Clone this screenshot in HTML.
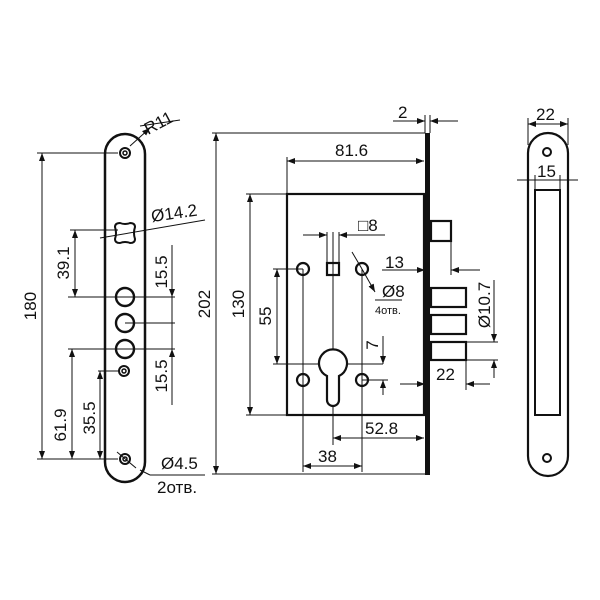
<!DOCTYPE html>
<html><head><style>body{margin:0;background:#fff}svg{display:block}text{font-family:"Liberation Sans",sans-serif;fill:#111}</style></head><body>
<svg width="600" height="600" viewBox="0 0 600 600" xmlns="http://www.w3.org/2000/svg">
<defs><marker id="a" markerWidth="8" markerHeight="6" refX="8" refY="3" orient="auto-start-reverse" markerUnits="userSpaceOnUse"><path d="M0,0 L8,3 L0,6z" fill="#111"/></marker></defs>
<g stroke="#111" fill="none">
<rect x="105" y="134" width="40" height="348" rx="20" stroke-width="2.5"/>
<circle cx="125" cy="153" r="5" stroke-width="2"/><circle cx="125" cy="153" r="2" stroke-width="1.5"/>
<circle cx="125" cy="459" r="5" stroke-width="2"/><circle cx="125" cy="459" r="2" stroke-width="1.5"/>
<path d="M120,223 Q125,225 130,223 Q135,223 135,227 Q133,233 135,239 Q135,243 130,243 Q125,241 120,243 Q115,243 115,239 Q117,233 115,227 Q115,223 120,223z" stroke-width="2"/>
<circle cx="125" cy="297" r="9" stroke-width="2.4"/><circle cx="125" cy="323" r="9" stroke-width="2.4"/><circle cx="125" cy="349" r="9" stroke-width="2.4"/>
<circle cx="124" cy="371" r="5" stroke-width="2"/><circle cx="124" cy="371" r="2" stroke-width="1.5"/>
<g stroke-width="1">
<line x1="37" y1="153" x2="118" y2="153"/><line x1="37" y1="459" x2="118" y2="459"/>
<line x1="42" y1="153" x2="42" y2="459" marker-start="url(#a)" marker-end="url(#a)"/>
<line x1="70" y1="230" x2="118" y2="230"/><line x1="68" y1="297" x2="175" y2="297"/>
<line x1="75" y1="230" x2="75" y2="297" marker-start="url(#a)" marker-end="url(#a)"/>
<line x1="125" y1="323" x2="175" y2="323"/><line x1="68" y1="349" x2="175" y2="349"/>
<line x1="72" y1="349" x2="72" y2="459" marker-start="url(#a)" marker-end="url(#a)"/>
<line x1="98" y1="371" x2="118" y2="371"/>
<line x1="100" y1="371" x2="100" y2="459" marker-start="url(#a)" marker-end="url(#a)"/>
<line x1="172" y1="245" x2="172" y2="297" marker-end="url(#a)"/>
<line x1="172" y1="349" x2="172" y2="405" marker-start="url(#a)"/>
<line x1="172" y1="297" x2="172" y2="349"/>
<line x1="100" y1="238" x2="205" y2="220"/>
<line x1="140" y1="126" x2="180" y2="120"/><line x1="130" y1="146" x2="150" y2="128" marker-end="url(#a)"/>
<line x1="117" y1="452" x2="136" y2="468"/><line x1="140" y1="470" x2="150" y2="475"/><line x1="150" y1="475" x2="205" y2="475"/>
<line x1="212" y1="133" x2="425" y2="133"/><line x1="212" y1="474" x2="425" y2="474"/>
<line x1="216" y1="133" x2="216" y2="474" marker-start="url(#a)" marker-end="url(#a)"/>
<line x1="287" y1="157" x2="287" y2="193"/>
<line x1="287" y1="161" x2="424" y2="161" marker-start="url(#a)" marker-end="url(#a)"/>
<line x1="425" y1="115" x2="425" y2="133"/><line x1="430" y1="115" x2="430" y2="133"/>
<line x1="393" y1="121" x2="425" y2="121" marker-end="url(#a)"/><line x1="458" y1="121" x2="430" y2="121" marker-end="url(#a)"/>
<line x1="246" y1="194" x2="287" y2="194"/><line x1="246" y1="415" x2="287" y2="415"/>
<line x1="250" y1="194" x2="250" y2="415" marker-start="url(#a)" marker-end="url(#a)"/>
<line x1="273" y1="269" x2="303" y2="269"/><line x1="273" y1="364" x2="383" y2="364"/>
<line x1="277" y1="269" x2="277" y2="364" marker-start="url(#a)" marker-end="url(#a)"/>
<line x1="303" y1="269" x2="303" y2="472"/><line x1="362" y1="269" x2="362" y2="472"/>
<line x1="333" y1="232" x2="333" y2="445"/><line x1="327" y1="232" x2="327" y2="264"/><line x1="339" y1="232" x2="339" y2="264"/>
<line x1="303" y1="235" x2="327" y2="235" marker-end="url(#a)"/><line x1="385" y1="235" x2="339" y2="235" marker-end="url(#a)"/>
<line x1="303" y1="466" x2="362" y2="466" marker-start="url(#a)" marker-end="url(#a)"/>
<line x1="333" y1="438" x2="424" y2="438" marker-start="url(#a)" marker-end="url(#a)"/>
<line x1="352" y1="252" x2="362" y2="269"/><line x1="362" y1="269" x2="375" y2="292" marker-end="url(#a)"/><line x1="375" y1="300" x2="402" y2="300"/>
<line x1="383" y1="336" x2="383" y2="364" marker-end="url(#a)"/><line x1="383" y1="395" x2="383" y2="380" marker-end="url(#a)"/>
<line x1="362" y1="380" x2="388" y2="380"/>
<line x1="451" y1="241" x2="451" y2="275"/>
<line x1="382" y1="270" x2="425" y2="270" marker-end="url(#a)"/><line x1="480" y1="270" x2="451" y2="270" marker-end="url(#a)"/>
<line x1="466" y1="360" x2="466" y2="390"/>
<line x1="400" y1="384" x2="425" y2="384" marker-end="url(#a)"/><line x1="490" y1="384" x2="466" y2="384" marker-end="url(#a)"/>
<line x1="466" y1="342" x2="498" y2="342"/><line x1="466" y1="360" x2="498" y2="360"/>
<line x1="494" y1="280" x2="494" y2="342" marker-end="url(#a)"/><line x1="494" y1="378" x2="494" y2="360" marker-end="url(#a)"/>
<line x1="528" y1="118" x2="528" y2="145"/><line x1="568" y1="118" x2="568" y2="145"/>
<line x1="528" y1="124" x2="568" y2="124" marker-start="url(#a)" marker-end="url(#a)"/>
<line x1="517" y1="180" x2="578" y2="180"/><line x1="535" y1="175" x2="535" y2="192"/><line x1="560" y1="175" x2="560" y2="192"/>
</g>
<rect x="425" y="133" width="5" height="342" fill="#111" stroke="none"/>
<rect x="287" y="194" width="137" height="221" stroke-width="2.2"/>
<rect x="431" y="221" width="20" height="20" stroke-width="2.2"/>
<rect x="431" y="288" width="35" height="19" stroke-width="2.2"/>
<rect x="431" y="315" width="35" height="19" stroke-width="2.2"/>
<rect x="431" y="342" width="35" height="18" stroke-width="2.2"/>
<circle cx="303" cy="269" r="6" stroke-width="2.2"/><circle cx="362" cy="269" r="6" stroke-width="2.2"/>
<rect x="327" y="263" width="12" height="12" stroke-width="2.2"/>
<circle cx="303" cy="380" r="6" stroke-width="2.2"/><circle cx="362" cy="380" r="6" stroke-width="2.2"/>
<path d="M327,376 A14,14 0 1 1 339,376 L339,400 A6,6 0 0 1 327,400z" stroke-width="2.2" fill="#fff"/>
<rect x="528" y="133" width="40" height="343" rx="20" stroke-width="2.2"/>
<rect x="535" y="190" width="25" height="225" stroke-width="2"/>
<circle cx="547" cy="152" r="4" stroke-width="2"/><circle cx="547" cy="458" r="4" stroke-width="2"/>
</g>
<g font-size="17">
<text transform="translate(36,306) rotate(-90)" text-anchor="middle">180</text>
<text transform="translate(69,263) rotate(-90)" text-anchor="middle">39.1</text>
<text transform="translate(66,425) rotate(-90)" text-anchor="middle">61.9</text>
<text transform="translate(95,418) rotate(-90)" text-anchor="middle">35.5</text>
<text transform="translate(167,272) rotate(-90)" text-anchor="middle">15.5</text>
<text transform="translate(167,376) rotate(-90)" text-anchor="middle">15.5</text>
<text transform="translate(148,135) rotate(-28)">R11</text>
<text transform="translate(152,222) rotate(-8)">Ø14.2</text>
<text x="161" y="469">Ø4.5</text>
<text x="157" y="493">2отв.</text>
<text transform="translate(210,304) rotate(-90)" text-anchor="middle">202</text>
<text transform="translate(244,304) rotate(-90)" text-anchor="middle">130</text>
<text transform="translate(271,316) rotate(-90)" text-anchor="middle">55</text>
<text x="335" y="156">81.6</text>
<text x="398" y="118">2</text>
<text x="358" y="231">□8</text>
<text x="385" y="268">13</text>
<text x="382" y="297">Ø8</text>
<text x="375" y="314" font-size="11">4отв.</text>
<text transform="translate(378,345) rotate(-90)" text-anchor="middle">7</text>
<text transform="translate(490,305) rotate(-90)" text-anchor="middle">Ø10.7</text>
<text x="436" y="380">22</text>
<text x="365" y="434">52.8</text>
<text x="318" y="462">38</text>
<text x="536" y="120">22</text>
<text x="537" y="177">15</text>
</g>
</svg>
</body></html>
